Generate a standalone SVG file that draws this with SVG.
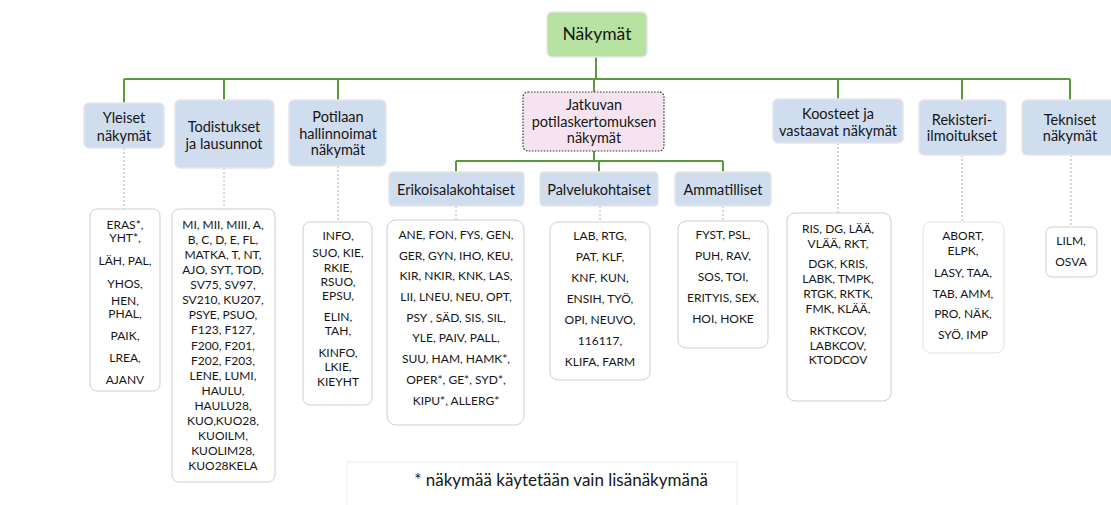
<svg xmlns="http://www.w3.org/2000/svg" width="1111" height="505" viewBox="0 0 1111 505">
<style>
.cat{fill:#cfddee;stroke:#e6e6e6;stroke-width:1.5}
.lst{fill:#ffffff;stroke:#cfcfcf;stroke-width:1}
.lbl{font-family:Lato,"Liberation Sans",sans-serif;font-size:14.5px;fill:#161616;text-anchor:middle;dominant-baseline:central}
.ls{font-family:Lato,"Liberation Sans",sans-serif;font-size:12px;fill:#161616;text-anchor:middle;dominant-baseline:central}
.g{stroke:#5b9a3c;stroke-width:2;fill:none}
.d{stroke:#b0b0b0;stroke-width:1;stroke-dasharray:2,2;fill:none}
</style>
<rect width="1111" height="505" fill="#ffffff"/>
<g id="connectors">
<path class="g" d="M596 57V79M124 79H1070M124 79V103M224 79V100M338 79V100M594 79V92M838 79V99M962 79V100M1070 79V100"/>
<path class="g" d="M594 151V161M456 161H723M456 161V172M599 161V172M723 161V172"/>
<path class="d" d="M124 148V209M224 168V209M338 166V222M456 206V220M600 206V222M723 206V221M838 143V213M962 155V222M1071 155V227"/>
</g>
<g id="n-root"><rect x="547" y="12" width="100" height="45" rx="5" fill="#b7e2a1" stroke="#e8e8e8" stroke-width="1.5"/><text class="lbl" x="597" y="33" style="font-size:17.5px">Näkymät</text></g>
<g id="n-yleiset"><rect class="cat" x="84" y="103" width="80" height="45" rx="5"/><text class="lbl" x="124" y="117">Yleiset</text><text class="lbl" x="124" y="135">näkymät</text></g>
<g id="n-todistukset"><rect class="cat" x="175" y="100" width="99" height="68" rx="5"/><text class="lbl" x="224" y="126">Todistukset</text><text class="lbl" x="224" y="143">ja lausunnot</text></g>
<g id="n-potilaan"><rect class="cat" x="289" y="100" width="97" height="66" rx="5"/><text class="lbl" x="338" y="116">Potilaan</text><text class="lbl" x="338" y="133">hallinnoimat</text><text class="lbl" x="338" y="149">näkymät</text></g>
<g id="n-jatkuvan"><rect x="523" y="92" width="141" height="59" rx="5" fill="#f5e4ef" stroke="#333" stroke-width="1.2" stroke-dasharray="1.5,1.5"/><text class="lbl" x="594" y="104">Jatkuvan</text><text class="lbl" x="594" y="121">potilaskertomuksen</text><text class="lbl" x="594" y="137">näkymät</text></g>
<g id="n-erikois"><rect class="cat" x="389" y="172" width="135" height="34" rx="4"/><text class="lbl" x="456" y="189">Erikoisalakohtaiset</text></g>
<g id="n-palvelu"><rect class="cat" x="540" y="172" width="118" height="34" rx="4"/><text class="lbl" x="599" y="189">Palvelukohtaiset</text></g>
<g id="n-ammat"><rect class="cat" x="675" y="172" width="96" height="34" rx="4"/><text class="lbl" x="723" y="189">Ammatilliset</text></g>
<g id="n-koosteet"><rect class="cat" x="773" y="99" width="130" height="44" rx="5"/><text class="lbl" x="838" y="113">Koosteet ja</text><text class="lbl" x="838" y="130">vastaavat näkymät</text></g>
<g id="n-rekisteri"><rect class="cat" x="919" y="100" width="87" height="55" rx="5"/><text class="lbl" x="962" y="119">Rekisteri-</text><text class="lbl" x="962" y="135">ilmoitukset</text></g>
<g id="n-tekniset"><rect class="cat" x="1022" y="100" width="95" height="55" rx="5"/><text class="lbl" x="1070" y="119">Tekniset</text><text class="lbl" x="1070" y="135">näkymät</text></g>
<g id="l-yleiset"><rect class="lst" x="90" y="209" width="70" height="182" rx="7"/>
<text class="ls" x="125" y="224">ERAS*,</text><text class="ls" x="125" y="237">YHT*,</text><text class="ls" x="125" y="260">LÄH, PAL,</text><text class="ls" x="125" y="283">YHOS,</text><text class="ls" x="125" y="300">HEN,</text><text class="ls" x="125" y="313">PHAL,</text><text class="ls" x="125" y="335">PAIK,</text><text class="ls" x="125" y="357">LREA,</text><text class="ls" x="125" y="379">AJANV</text></g>
<g id="l-todistukset"><rect class="lst" x="172" y="209" width="103" height="273" rx="7"/>
<text class="ls" x="223" y="224">MI, MII, MIII,   A,</text><text class="ls" x="223" y="239">B, C, D, E, FL,</text><text class="ls" x="223" y="254">MATKA, T, NT,</text><text class="ls" x="223" y="269">AJO, SYT,  TOD,</text><text class="ls" x="223" y="284">SV75, SV97,</text><text class="ls" x="223" y="299">SV210, KU207,</text><text class="ls" x="223" y="314">PSYE, PSUO,</text><text class="ls" x="223" y="329">F123, F127,</text><text class="ls" x="223" y="345">F200, F201,</text><text class="ls" x="223" y="360">F202, F203,</text><text class="ls" x="223" y="375">LENE, LUMI,</text><text class="ls" x="223" y="390">HAULU,</text><text class="ls" x="223" y="405">HAULU28,</text><text class="ls" x="223" y="420">KUO,KUO28,</text><text class="ls" x="223" y="435">KUOILM,</text><text class="ls" x="223" y="450">KUOLIM28,</text><text class="ls" x="223" y="465">KUO28KELA</text></g>
<g id="l-potilaan"><rect class="lst" x="303" y="222" width="69" height="183" rx="7"/>
<text class="ls" x="338" y="235">INFO,</text><text class="ls" x="338" y="252">SUO, KIE,</text><text class="ls" x="338" y="267">RKIE,</text><text class="ls" x="338" y="281">RSUO,</text><text class="ls" x="338" y="295">EPSU,</text><text class="ls" x="338" y="316">ELIN,</text><text class="ls" x="338" y="330">TAH,</text><text class="ls" x="338" y="352">KINFO,</text><text class="ls" x="338" y="366">LKIE,</text><text class="ls" x="338" y="381">KIEYHT</text></g>
<g id="l-erikois"><rect class="lst" x="387" y="220" width="137" height="205" rx="9"/>
<text class="ls" x="456" y="234">ANE, FON, FYS, GEN,</text><text class="ls" x="456" y="255">GER, GYN, IHO, KEU,</text><text class="ls" x="456" y="275">KIR, NKIR, KNK, LAS,</text><text class="ls" x="456" y="296">LII, LNEU, NEU, OPT,</text><text class="ls" x="456" y="317">PSY , SÄD, SIS, SIL,</text><text class="ls" x="456" y="337">YLE, PAIV, PALL,</text><text class="ls" x="456" y="358">SUU, HAM, HAMK*,</text><text class="ls" x="456" y="379">OPER*, GE*, SYD*,</text><text class="ls" x="456" y="400">KIPU*, ALLERG*</text></g>
<g id="l-palvelu"><rect class="lst" x="550" y="222" width="100" height="158" rx="8"/>
<text class="ls" x="600" y="235">LAB, RTG,</text><text class="ls" x="600" y="256">PAT, KLF,</text><text class="ls" x="600" y="277">KNF, KUN,</text><text class="ls" x="600" y="298">ENSIH, TYÖ,</text><text class="ls" x="600" y="319">OPI, NEUVO,</text><text class="ls" x="600" y="340">116117,</text><text class="ls" x="600" y="361">KLIFA, FARM</text></g>
<g id="l-ammat"><rect class="lst" x="678" y="221" width="90" height="127" rx="8"/>
<text class="ls" x="723" y="234">FYST, PSL,</text><text class="ls" x="723" y="255">PUH, RAV,</text><text class="ls" x="723" y="276">SOS, TOI,</text><text class="ls" x="723" y="297">ERITYIS, SEX,</text><text class="ls" x="723" y="318">HOI, HOKE</text></g>
<g id="l-koosteet"><rect class="lst" x="787" y="213" width="104" height="188" rx="8"/>
<text class="ls" x="838" y="228">RIS, DG, LÄÄ,</text><text class="ls" x="838" y="243">VLÄÄ, RKT,</text><text class="ls" x="838" y="263">DGK,  KRIS,</text><text class="ls" x="838" y="278">LABK, TMPK,</text><text class="ls" x="838" y="293">RTGK, RKTK,</text><text class="ls" x="838" y="308">FMK,  KLÄÄ,</text><text class="ls" x="838" y="330">RKTKCOV,</text><text class="ls" x="838" y="345">LABKCOV,</text><text class="ls" x="838" y="359">KTODCOV</text></g>
<g id="l-rekisteri"><rect x="923" y="222" width="81" height="131" rx="8" fill="#fff" stroke="#dfe8d6" stroke-width="1"/>
<text class="ls" x="963" y="235">ABORT,</text><text class="ls" x="963" y="250">ELPK,</text><text class="ls" x="963" y="272">LASY, TAA,</text><text class="ls" x="963" y="293">TAB, AMM,</text><text class="ls" x="963" y="313">PRO, NÄK,</text><text class="ls" x="963" y="334">SYÖ, IMP</text></g>
<g id="l-tekniset"><rect class="lst" x="1046" y="227" width="51" height="50" rx="6"/>
<text class="ls" x="1071" y="240">LILM,</text><text class="ls" x="1071" y="261">OSVA</text></g>
<g id="footnote"><path d="M347 505V462H737V505" fill="#fff" stroke="#ececec" stroke-width="1"/><text x="561" y="479" style="font-family:Lato,'Liberation Sans',sans-serif;font-size:17px;fill:#161616;text-anchor:middle;dominant-baseline:central">* näkymää käytetään vain lisänäkymänä</text></g>
</svg>
